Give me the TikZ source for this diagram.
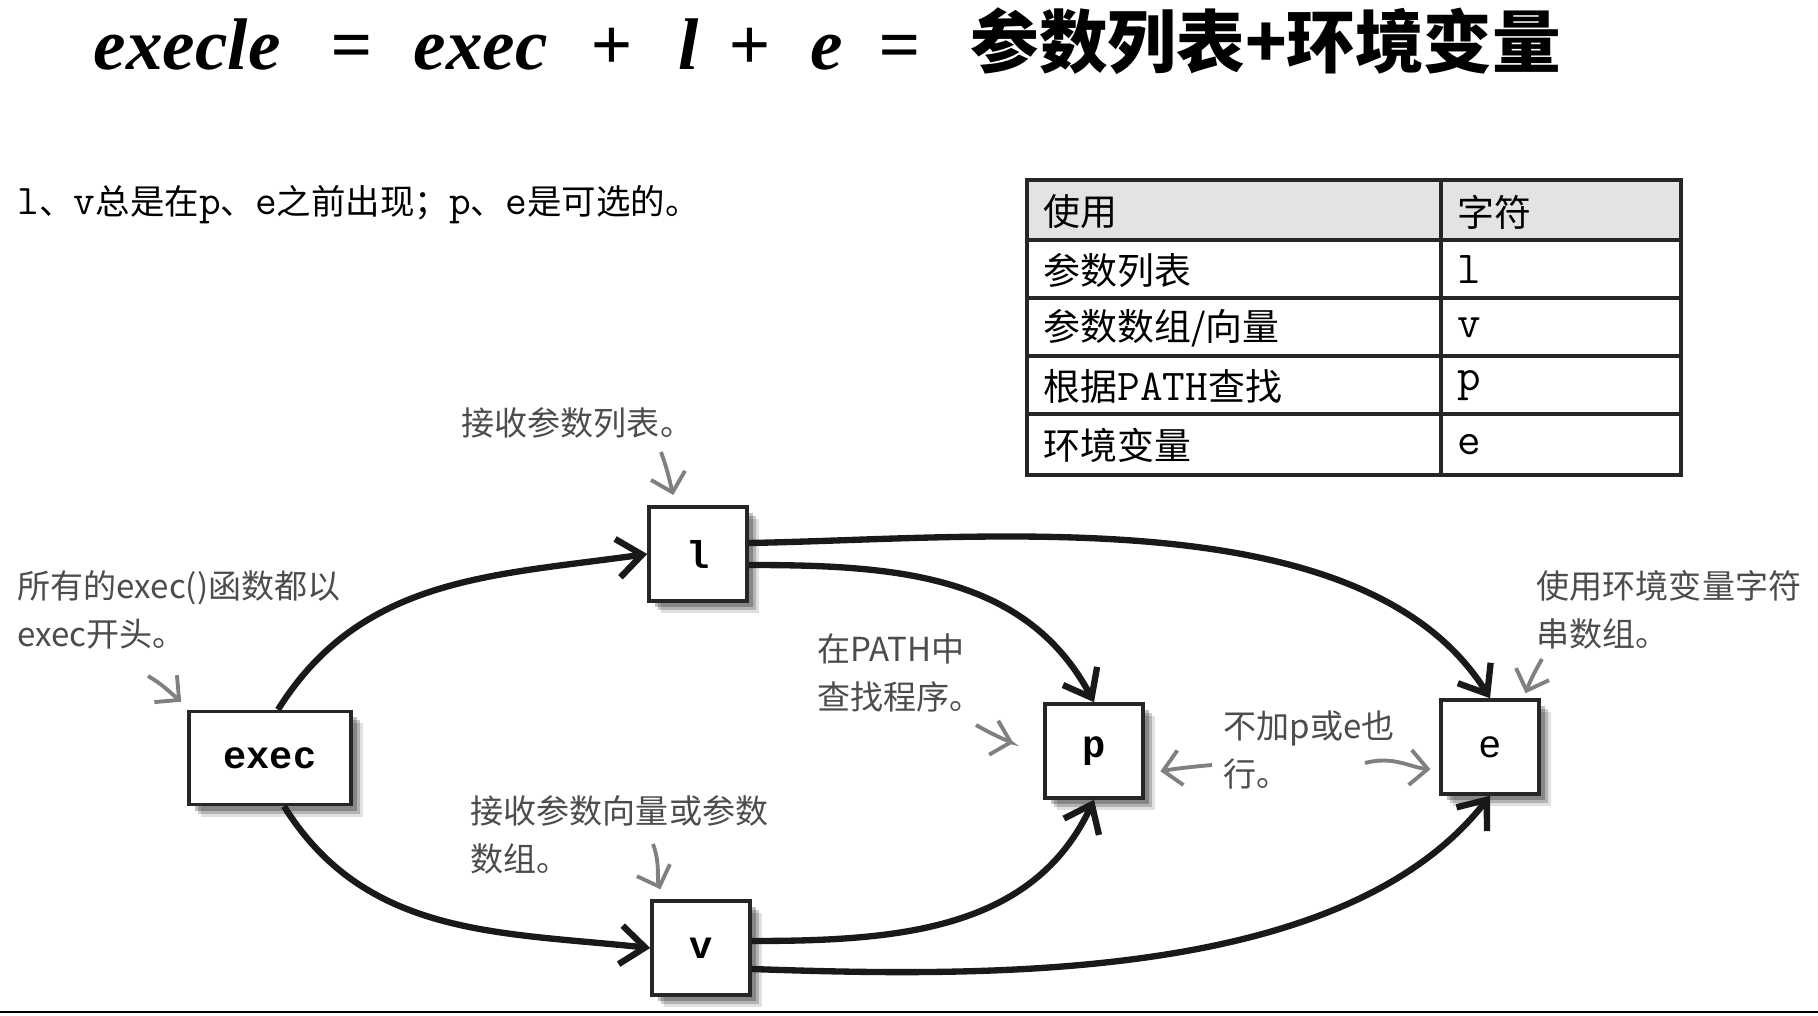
\documentclass[tikz,border=0pt]{standalone}
\usepackage{fontspec}
\setmainfont{Liberation Serif}
\setsansfont{Liberation Sans}
\setmonofont{Liberation Mono}
\newfontfamily\cjk{Noto Sans CJK SC}
\newfontfamily\lmtt{Latin Modern Mono}
\usetikzlibrary{arrows.meta, shadows, positioning}
\newcommand{\tletter}[1]{{\lmtt #1}}
\tikzset{
    box/.style={draw=black!85, line width=1pt, fill=white, minimum width=0.98cm, minimum height=0.94cm, inner sep=0pt, font=\ttfamily\bfseries\fontsize{11}{11}\selectfont,
        drop shadow={shadow xshift=0.12cm, shadow yshift=-0.12cm, fill=black, opacity=0.12},
        drop shadow={shadow xshift=0.09cm, shadow yshift=-0.09cm, fill=black, opacity=0.2},
        drop shadow={shadow xshift=0.06cm, shadow yshift=-0.06cm, fill=black, opacity=0.25}},
    link/.style={line width=1.8pt, draw=black!90, -{Straight Barb[length=7pt,width=11pt]}},
    hint/.style={line width=1.1pt, draw=black!50, -{Straight Barb[length=5pt,width=10pt]}},
    hand/.style={inner sep=0pt, align=left, text=black!70, font=\cjk\fontsize{9.4}{13.7}\selectfont},
    titlepart/.style={inner sep=0pt, font=\bfseries\itshape\fontsize{20.8}{24}\selectfont},
    titlecjk/.style={inner sep=0pt, font=\cjk\bfseries\fontsize{19.5}{24}\selectfont},
    cell/.style={inner sep=0pt, anchor=west, font=\cjk\fontsize{10.5}{12}\selectfont},
    tabline/.style={line width=1.1pt, draw=black!85}
}
\begin{document}
\begin{tikzpicture}[x=0.01cm, y=0.01cm]
    \useasboundingbox (0,0) rectangle (1818,1015);

    % -----------------------------------------------------------------
    % TITOLO
    % -----------------------------------------------------------------
    \foreach \x/\t [count=\i] in {93/execle, 330/=, 413/exec, 590/+, 678/l, 728/+, 810/e, 878/=}
        \node[titlepart, anchor=base west] (tt\i) at (\x, 945) {\t};
    \node[titlecjk, anchor=base west] (ttcjk) at (970, 947) {参数列表+环境变量};

    \node[anchor=west, inner sep=0pt, font=\cjk\fontsize{9.8}{12}\selectfont] (rule) at (17, 810)
        {\tletter{\large l}、\tletter{\large v}总是在\tletter{\large p}、\tletter{\large e}之前出现；\tletter{\large p}、\tletter{\large e}是可选的。};

    % -----------------------------------------------------------------
    % TABELLA
    % -----------------------------------------------------------------
    \fill[gray!22] (1027,775) rectangle (1681,835);
    \foreach \y in {775,717,659,601}
        \draw[tabline] (1027,\y) -- (1681,\y);
    \draw[tabline] (1441,540) -- (1441,835);
    \draw[tabline] (1027,540) rectangle (1681,835);

    \node[cell] (h1) at (1043, 803) {使用};
    \node[cell] (h2) at (1457, 803) {字符};
    \foreach \y/\a/\b [count=\i] in {745/参数列表/l, 687/{参数数组/向量}/v, 629/{根据\tletter{\bfseries\fontsize{12.5}{12}\selectfont PATH}查找}/p, 570/环境变量/e} {
        \node[cell] (u\i) at (1043, \y) {\a};
        \node[cell, font=\lmtt\fontsize{13}{12}\selectfont] (c\i) at (1457, \y) {\b};
    }

    % -----------------------------------------------------------------
    % NODI
    % -----------------------------------------------------------------
    \node[box, minimum width=1.62cm, minimum height=0.93cm] (exec) at (270, 257) {exec};
    \node[box] (l) at (698, 461) {l};
    \node[box] (v) at (701, 67) {v};
    \node[box] (p) at (1094, 264) {p};
    \node[box, font=\sffamily\fontsize{11}{11}\selectfont] (e) at (1490, 268) {e};

    \draw[link] ([xshift=0.08cm]exec.north) to[out=58, in=188] (l.west);
    \draw[link] ([xshift=0.14cm]exec.south) to[out=-58, in=174] (v.west);
    \draw[link] ([yshift=-0.11cm]l.east) to[out=0, in=118] (p.north);
    \draw[link] ([yshift=0.11cm]l.east) to[out=1, in=122, looseness=0.8] (e.north);
    \draw[link] ([yshift=0.07cm]v.east) to[out=0, in=245] (p.south);
    \draw[link] ([yshift=-0.21cm]v.east) to[out=-2, in=232, looseness=0.8] (e.south);

    % -----------------------------------------------------------------
    % NOTE
    % -----------------------------------------------------------------
    \node[hand, anchor=west] (notel) at (461, 592) {接收参数列表。};
    \node[hand, anchor=west] (noteexec) at (17, 405) {所有的exec()函数都以\\exec开头。};
    \node[hand, anchor=west] (notepath) at (817, 342) {在PATH中\\查找程序。};
    \node[hand, anchor=west] (noteopt) at (1223, 265) {不加p或e也\\行。};
    \node[hand, anchor=west] (noteenv) at (1536, 405) {使用环境变量字符\\串数组。};
    \node[hand, anchor=west] (notev) at (470, 180) {接收参数向量或参数\\数组。};

    \coordinate (hl) at (661, 563);
    \coordinate (hexec) at (148, 339);
    \coordinate (hpath) at (976, 290);
    \coordinate (hoptp) at (1212, 250);
    \coordinate (hopte) at (1365, 252);
    \coordinate (henv) at (1542, 356);
    \coordinate (hv) at (653, 171);

    \draw[hint, shorten >=3pt] (hl) to[out=-70, in=105] ([xshift=-0.22cm]l.north);
    \draw[hint] (hexec) to[out=-30, in=140] ([shift={(-0.06cm,0.08cm)}]exec.north west);
    \draw[hint, shorten >=8.8pt] (hpath) to[out=-30, in=165] (p.west);
    \draw[hint, shorten >=4.5pt] (hoptp) to[out=185, in=10] ([yshift=-0.23cm]p.east);
    \draw[hint, shorten >=2.5pt] (hopte) to[out=15, in=175] ([yshift=-0.23cm]e.west);
    \draw[hint, shorten >=1.5pt] (henv) to[out=-120, in=70] ([xshift=-0.17cm]e.north east);
    \draw[hint, shorten >=3pt] (hv) to[out=-70, in=110] ([xshift=-0.37cm]v.north);

    \draw[line width=0.6pt] (0,3) -- (1818,3);

\end{tikzpicture}
\end{document}
